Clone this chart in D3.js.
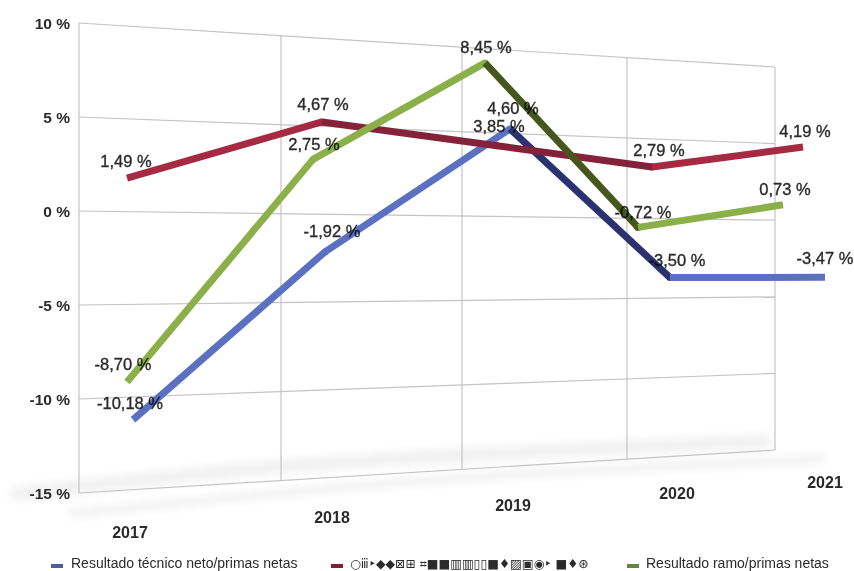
<!DOCTYPE html>
<html>
<head>
<meta charset="utf-8">
<script src="https://cdn.jsdelivr.net/npm/d3@7"></script>
<style>
  body { margin: 0; background: #fff; overflow: hidden; }
  text { font-family: "Liberation Sans", Arial, sans-serif; fill: #2b2b2b; }
</style>
</head>
<body>
<div id="chart"></div>
<script>
var years = [2017, 2018, 2019, 2020, 2021];
var yTicks = [10, 5, 0, -5, -10, -15];
// the middle legend entry is unreadable in the reference, only broken glyphs, so it is kept as glyphs
var seriesNames = ["Resultado técnico neto/primas netas", "○ⅲ‣◆◆⊠⊞ ⌗■■▥▥▯▯■♦▨▣◉‣ ■♦⊛", "Resultado ramo/primas netas"];
var tecnico = [-10.18, -1.92, 4.60, -3.50, -3.47];
var middle = [1.49, 4.67, 3.85, 2.79, 4.19];
var ramo = [-8.70, 2.75, 8.45, -0.72, 0.73];

var svg = d3.select("#chart").append("svg")
  .attr("width", 854)
  .attr("height", 571)
  .style("display", "block");

var defs = svg.append("defs");
defs.append("filter").attr("id", "soft").append("feGaussianBlur").attr("stdDeviation", 0.55);
defs.append("filter").attr("id", "softText").append("feGaussianBlur").attr("stdDeviation", 0.4);
defs.append("filter").attr("id", "floor")
  .attr("filterUnits", "userSpaceOnUse")
  .attr("x", 0).attr("y", 400).attr("width", 854).attr("height", 150)
  .append("feGaussianBlur").attr("stdDeviation", 4);

// the picture is a tilted 3d chart, so the back wall narrows to the right
var wallX = d3.scaleLinear().domain(years).range([79, 281, 462, 627, 775]);
var wallLeft = d3.scaleLinear().domain([-15, 10]).range([493, 23]);
var wallRight = d3.scaleLinear().domain([-15, 10]).range([450, 67]);
var wallY = function(value, year) {
  var t = (wallX(year) - 79) / (775 - 79);
  return wallLeft(value) + t * (wallRight(value) - wallLeft(value));
};

// the lines stand in front of the wall, each one at its own depth
var zeroY = d3.scaleLinear().domain(years).range([208, 213, 215, 215, 217]);
var unitY = d3.scaleLinear().domain(years).range([20, 19.5, 18, 17.2, 16.7]);

var series = [
  { name: seriesNames[0], values: tecnico, color: "#5b70c2", dark: "#2a3270", key: "#4a5f9c", depth: 1.04,
    x: d3.scaleLinear().domain(years).range([133, 325, 510, 670, 825]) },
  { name: seriesNames[1], values: middle, color: "#a62a42", dark: "#85243a", key: "#7d2030", depth: 1,
    x: d3.scaleLinear().domain(years).range([127, 322, 497, 652, 803]) },
  { name: seriesNames[2], values: ramo, color: "#8cb04a", dark: "#47571f", key: "#64863a", depth: 1,
    x: d3.scaleLinear().domain(years).range([127, 313, 485, 638, 783]) }
];

// floor shadow
var floorLine = d3.line().curve(d3.curveBasis);
var floor = svg.append("g").attr("filter", "url(#floor)").attr("fill", "none").attr("stroke", "#f0f0f0");
floor.append("path")
  .attr("d", floorLine([[12, 494], [250, 468], [427, 456], [770, 441]]))
  .attr("stroke-width", 13);
floor.append("path")
  .attr("d", floorLine([[70, 514], [316, 489], [500, 474], [825, 459]]))
  .attr("stroke-width", 8);

// grid
var grid = svg.append("g").attr("filter", "url(#soft)").attr("stroke", "#c4c4c4").attr("stroke-width", 1.2);
grid.selectAll(".hgrid")
  .data(yTicks)
  .enter()
  .append("line")
  .attr("x1", wallX(2017))
  .attr("x2", wallX(2021))
  .attr("y1", d => wallY(d, 2017))
  .attr("y2", d => wallY(d, 2021));
grid.selectAll(".vgrid")
  .data(years)
  .enter()
  .append("line")
  .attr("x1", d => wallX(d))
  .attr("x2", d => wallX(d))
  .attr("y1", d => wallY(10, d))
  .attr("y2", d => wallY(-15, d));

// axis labels
var axisText = svg.append("g").attr("filter", "url(#softText)");
axisText.selectAll(".ylabel")
  .data(yTicks)
  .enter()
  .append("text")
  .attr("x", 70)
  .attr("y", d => wallLeft(d) + 6)
  .attr("text-anchor", "end")
  .attr("font-size", 15.5)
  .attr("font-weight", "bold")
  .text(d => d + " %");

var yearLabelX = d3.scaleLinear().domain(years).range([130, 332, 513, 677, 825]);
var yearLabelY = d3.scaleLinear().domain(years).range([538, 523, 511, 499, 488]);
axisText.selectAll(".xlabel")
  .data(years)
  .enter()
  .append("text")
  .attr("x", d => yearLabelX(d))
  .attr("y", d => yearLabelY(d))
  .attr("text-anchor", "middle")
  .attr("font-size", 16)
  .attr("font-weight", "bold")
  .text(d => d);

// lines, one segment at a time because the falling part is shaded darker
var lines = svg.append("g").attr("filter", "url(#soft)");
series.forEach(function(s) {
  var point = function(i) {
    return [s.x(years[i]), zeroY(years[i]) - s.values[i] * unitY(years[i]) * s.depth];
  };
  d3.pairs(d3.range(years.length)).forEach(function(p) {
    lines.append("path")
      .attr("d", d3.line()([point(p[0]), point(p[1])]))
      .attr("fill", "none")
      .attr("stroke", s.values[p[1]] < s.values[p[0]] - 0.5 ? s.dark : s.color)
      .attr("stroke-width", 7);
    // round off the joint only, the far ends stay square
    if (p[1] < years.length - 1) {
      lines.append("circle")
        .attr("cx", point(p[1])[0])
        .attr("cy", point(p[1])[1])
        .attr("r", 3.5)
        .attr("fill", s.values[p[1]] < s.values[p[0]] - 0.5 ? s.dark : s.color);
    }
  });
});

// value labels, multiplied so they sink into the dark falling lines like in the picture
var fmt = function(v) { return v.toFixed(2).replace(".", ",") + " %"; };
var labelDx = [[-3, 7, 3, 7, 0], [-1, 1, 2, 7, 2], [-4, 1, 1, 5, 2]];
var labelDy = [[-11, -15, -15, -12, -13], [-11, -12, -14, -11, -10], [-12, -9, -10, -9, -10]];
var valueText = svg.append("g")
  .attr("filter", "url(#softText)")
  .style("mix-blend-mode", "multiply");
series.forEach(function(s, si) {
  valueText.selectAll(".val" + si)
    .data(s.values)
    .enter()
    .append("text")
    .attr("class", "val" + si)
    .attr("x", (d, i) => s.x(years[i]) + labelDx[si][i])
    .attr("y", (d, i) => zeroY(years[i]) - d * unitY(years[i]) * s.depth + labelDy[si][i])
    .attr("text-anchor", "middle")
    .attr("font-size", 16.5)
    .attr("stroke", "#2b2b2b")
    .attr("stroke-width", 0.35)
    .text(fmt);
});

// legend
var legendX = d3.scaleOrdinal().domain(seriesNames).range([51, 331, 627]);
var legendGap = d3.scaleOrdinal().domain(seriesNames).range([20, 19, 19]);
var legend = svg.selectAll(".legend")
  .data(series)
  .enter()
  .append("g")
  .attr("transform", d => `translate(${legendX(d.name)}, 566)`);
legend.append("rect")
  .attr("y", -2)
  .attr("width", 12)
  .attr("height", 4)
  .attr("fill", d => d.key);
legend.append("text")
  .attr("x", d => legendGap(d.name))
  .attr("y", 2)
  .attr("font-size", (d, i) => i === 1 ? 12.4 : 14)
  .style("font-family", (d, i) => i === 1 ? "'DejaVu Sans'" : null)
  .text(d => d.name);
</script>
</body>
</html>
